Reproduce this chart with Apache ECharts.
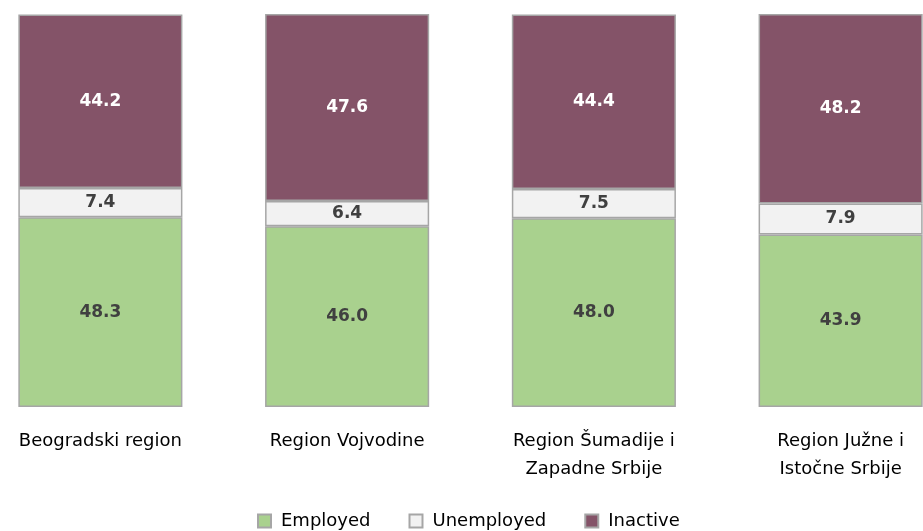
<!DOCTYPE html>
<html>
<head>
<meta charset="utf-8">
<script src="https://cdn.jsdelivr.net/npm/echarts@6/dist/echarts.min.js"></script>
<style>
  html, body { margin: 0; padding: 0; background: #fff; overflow: hidden; }
  /* the last bar runs off the right edge in the original, so the chart is wider than the page */
  #chart { width: 987px; height: 531px; margin-left: -23px; }
</style>
</head>
<body>
<div id="chart"></div>
<script>
const regions = ['Beogradski region', 'Region Vojvodine', 'Region Šumadije i\nZapadne Srbije', 'Region Južne i\nIstočne Srbije'];
const employed = [48.3, 46.0, 48.0, 43.9];
const unemployed = [7.4, 6.4, 7.5, 7.9];
const inactive = [44.2, 47.6, 44.4, 48.2];

const font = 'DejaVu Sans';
const myChart = echarts.init(document.getElementById('chart'));

const makeSeries = (name, data, color, labelColor) => ({
  name: name,
  type: 'bar',
  stack: 'total',
  barWidth: '66.5%',
  data: data,
  itemStyle: {
    color: color,
    borderColor: '#A6A6A6',
    borderWidth: 1.5
  },
  label: {
    show: true,
    position: 'inside',
    formatter: (p) => p.value.toFixed(1),
    color: labelColor,
    fontFamily: font,
    fontWeight: 'bold',
    fontSize: 17
  }
});

const option = {
  animation: false,
  grid: {
    left: 0,
    right: 0,
    top: 14,
    bottom: 124
  },
  legend: {
    top: 507,
    left: 275,
    icon: 'rect',
    itemWidth: 13,
    itemHeight: 13,
    itemGap: 38,
    textStyle: {
      fontFamily: font,
      fontSize: 18,
      color: '#000',
      padding: [0, 0, 0, 5]
    },
    data: ['Employed', 'Unemployed', 'Inactive']
  },
  xAxis: {
    type: 'category',
    data: regions,
    axisLine: {show: false},
    axisTick: {show: false},
    axisLabel: {
      margin: 20,
      interval: 0,
      fontFamily: font,
      fontSize: 18,
      color: '#000',
      lineHeight: 28
    }
  },
  yAxis: {
    type: 'value',
    min: 0,
    max: 100,
    show: false
  },
  series: [
    makeSeries('Employed', employed, '#A9D18E', '#404040'),
    makeSeries('Unemployed', unemployed, '#F2F2F2', '#404040'),
    makeSeries('Inactive', inactive, '#845368', '#ffffff')
  ]
};
myChart.setOption(option);
</script>
</body>
</html>
